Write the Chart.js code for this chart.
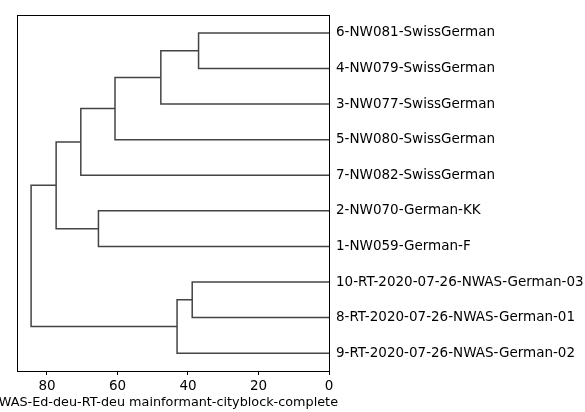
<!DOCTYPE html>
<html>
<head>
<meta charset="utf-8">
<script src="https://cdn.jsdelivr.net/npm/chart.js@4"></script>
<style>
  body { margin: 0; background: #fff; }
</style>
</head>
<body>
<canvas id="myChart" width="585" height="412"></canvas>
<script>
// leaves, bottom to top
var leafLabels = [
  "9-RT-2020-07-26-NWAS-German-02",
  "8-RT-2020-07-26-NWAS-German-01",
  "10-RT-2020-07-26-NWAS-German-03",
  "1-NW059-German-F",
  "2-NW070-German-KK",
  "7-NW082-SwissGerman",
  "5-NW080-SwissGerman",
  "3-NW077-SwissGerman",
  "4-NW079-SwissGerman",
  "6-NW081-SwissGerman"
];
// linkage: cluster 10+i joins mergeLeft[i] and mergeRight[i] at mergeHeight[i]
var mergeLeft   = [1, 0, 8, 7, 6, 3, 5, 15, 11];
var mergeRight  = [2, 10, 9, 12, 13, 4, 14, 16, 17];
var mergeHeight = [38.8, 43.1, 37.0, 47.7, 60.7, 65.4, 70.4, 77.4, 84.5];
var xTicks = [0, 20, 40, 60, 80];

var nodePos = leafLabels.map(function(l, i) { return 5 + 10 * i; });
var nodeHeight = leafLabels.map(function() { return 0; });
var linkColor = "#444444";

var datasets = [];
mergeLeft.forEach(function(a, i) {
  var b = mergeRight[i], h = mergeHeight[i];
  datasets.push({
    data: [
      {x: nodeHeight[a], y: nodePos[a]},
      {x: h, y: nodePos[a]},
      {x: h, y: nodePos[b]},
      {x: nodeHeight[b], y: nodePos[b]}
    ],
    showLine: true,
    borderColor: linkColor,
    borderWidth: 1.5,
    pointRadius: 0,
    tension: 0
  });
  nodePos.push((nodePos[a] + nodePos[b]) / 2);
  nodeHeight.push(h);
});

var leafPos = leafLabels.map(function(l, i) { return 5 + 10 * i; });

// box round the plot area
var frame = {
  id: 'frame',
  afterDraw: function(chart) {
    var a = chart.chartArea, c = chart.ctx;
    c.save();
    c.strokeStyle = '#000';
    c.lineWidth = 1;
    c.strokeRect(Math.round(a.left) + 0.5, Math.round(a.top) + 0.5,
                 Math.round(a.right - a.left), Math.round(a.bottom - a.top));
    c.restore();
  }
};

// x axis caption, drawn by hand so it isn't squeezed to the axis width
var caption = {
  id: 'caption',
  afterDraw: function(chart) {
    var a = chart.chartArea, c = chart.ctx;
    c.save();
    c.font = '12.8px "DejaVu Sans"';
    c.fillStyle = '#000';
    c.textAlign = 'right';
    c.textBaseline = 'alphabetic';
    c.fillText('NWAS-Ed-deu-RT-deu mainformant-cityblock-complete', a.right + 9, 406);
    c.restore();
  }
};

var ctx = document.getElementById("myChart").getContext('2d');
var myChart = new Chart(ctx, {
  type: 'scatter',
  data: { datasets: datasets },
  options: {
    responsive: false,
    animation: false,
    layout: { padding: { left: 17, top: 9, right: 0, bottom: 0 } },
    plugins: { legend: { display: false }, tooltip: { enabled: false } },
    scales: {
      x: {
        type: 'linear',
        reverse: true,
        min: 0,
        max: 88.5,
        afterBuildTicks: function(s) { s.ticks = xTicks.map(function(v) { return {value: v}; }); },
        afterFit: function(s) { s.height = 41; },
        grid: { drawOnChartArea: false, drawTicks: true, tickLength: 4, color: '#000' },
        border: { color: '#000', width: 1 },
        ticks: { color: '#000', padding: 3, maxRotation: 0, font: { family: 'DejaVu Sans', size: 13.5 } }
      },
      y: {
        type: 'linear',
        position: 'right',
        min: 0,
        max: 100,
        afterBuildTicks: function(s) { s.ticks = leafPos.map(function(v) { return {value: v}; }); },
        afterFit: function(s) { s.width = 256; },
        grid: { drawOnChartArea: false, drawTicks: false },
        border: { color: '#000', width: 1 },
        ticks: {
          color: '#000',
          padding: 7,
          autoSkip: false,
          font: { family: 'DejaVu Sans', size: 13.5 },
          callback: function(v) { return leafLabels[leafPos.indexOf(v)]; }
        }
      }
    }
  },
  plugins: [frame, caption]
});
</script>
</body>
</html>
